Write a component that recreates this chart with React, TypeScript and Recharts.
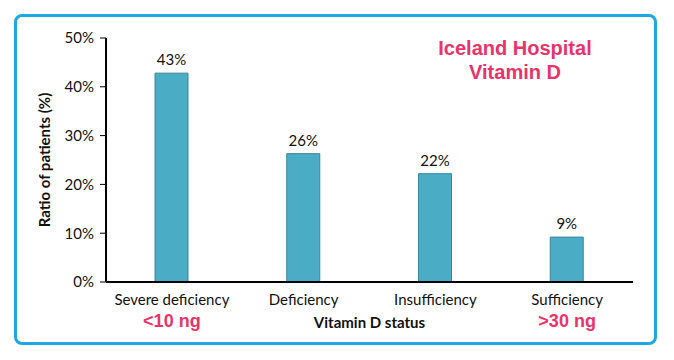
import { Bar, BarChart, LabelList, XAxis, YAxis } from 'recharts'

const categories = ['Severe deficiency', 'Deficiency', 'Insufficiency', 'Sufficiency']
const rangeLabels = ['<10 ng', '', '', '>30 ng']
const patientRatio = [42.8, 26.3, 22.2, 9.2]
const yTicks = [0, 10, 20, 30, 40, 50]

const data = categories.map((name, i) => ({ name, sub: rangeLabels[i], value: patientRatio[i] }))

const PINK = '#E8336E'
const BORDER = '#1DA9DE'
const FONT = 'Lato, "Open Sans", sans-serif'

function CategoryTick(props: any) {
  const { x, y, payload, index } = props
  const sub = rangeLabels[index]
  return (
    <g transform={`translate(${x},${y})`}>
      <text y={23} textAnchor="middle" fontFamily={FONT} fontSize={15} fill="#111">
        {payload.value}
      </text>
      {sub && (
        <text
          y={45}
          textAnchor="middle"
          fontFamily='"Liberation Sans", Arial, sans-serif'
          fontWeight="bold"
          fontSize={18}
          fill={PINK}
        >
          {sub}
        </text>
      )}
    </g>
  )
}

export default function App() {
  return (
    <div style={{ position: 'absolute', left: 0, top: 0, width: 674, height: 360, background: '#fff' }}>
      <div
        style={{
          position: 'absolute',
          left: 14,
          top: 14,
          width: 637,
          height: 325,
          border: `3px solid ${BORDER}`,
          borderRadius: 8,
        }}
      />
      <div
        style={{
          position: 'absolute',
          left: 405,
          top: 36,
          width: 220,
          textAlign: 'center',
          fontFamily: '"Liberation Sans", Arial, sans-serif',
          fontWeight: 'bold',
          fontSize: 20,
          lineHeight: '24px',
          color: PINK,
        }}
      >
        Iceland Hospital
        <br />
        Vitamin D
      </div>
      <div style={{ position: 'absolute', left: 0, top: 0 }}>
        <BarChart width={674} height={360} data={data} margin={{ top: 38, right: 41, bottom: 8, left: 46 }}>
          <XAxis
            dataKey="name"
            axisLine={{ stroke: '#000', strokeWidth: 2 }}
            tickLine={false}
            tickSize={0}
            tickMargin={0}
            height={70}
            interval={0}
            tick={<CategoryTick />}
            label={{
              content: (p: any) => {
                const vb = p.viewBox
                return (
                  <text
                    x={vb.x + vb.width / 2}
                    y={vb.y + 46}
                    textAnchor="middle"
                    fontFamily={FONT}
                    fontWeight="bold"
                    fontSize={15}
                    fill="#111"
                  >
                    Vitamin D status
                  </text>
                )
              },
            }}
          />
          <YAxis
            width={60}
            domain={[0, 50]}
            ticks={yTicks}
            tickFormatter={(v: number) => `${v}%`}
            axisLine={{ stroke: '#000', strokeWidth: 2 }}
            tickLine={{ stroke: '#000' }}
            tickSize={6}
            tickMargin={6}
            tick={{ fontFamily: FONT, fontSize: 15, fill: '#111' }}
            label={{
              content: (p: any) => {
                const vb = p.viewBox
                const cy = vb.y + vb.height / 2
                return (
                  <text
                    x={44}
                    y={cy}
                    transform={`rotate(-90, 44, ${cy})`}
                    textAnchor="middle"
                    dominantBaseline="central"
                    fontFamily={FONT}
                    fontWeight="bold"
                    fontSize={15}
                    fill="#111"
                  >
                    Ratio of patients (%)
                  </text>
                )
              },
            }}
          />
          <Bar dataKey="value" fill="#4BACC6" stroke="#3A8699" strokeWidth={1} barSize={33} isAnimationActive={false}>
            <LabelList
              dataKey="value"
              position="top"
              offset={8}
              formatter={(v: any) => `${Math.round(Number(v))}%`}
              style={{ fontFamily: FONT, fontSize: 15, fill: '#111' }}
            />
          </Bar>
        </BarChart>
      </div>
    </div>
  )
}
